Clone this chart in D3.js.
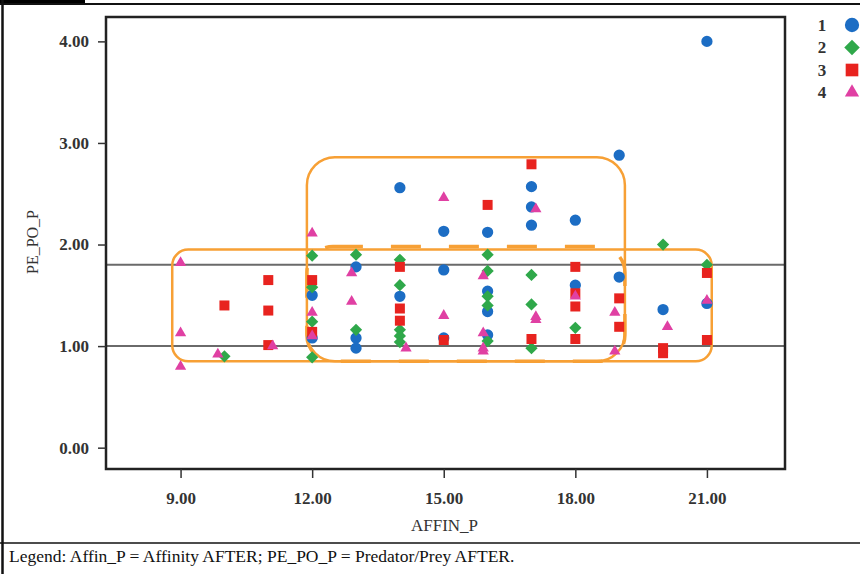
<!DOCTYPE html>
<html>
<head>
<meta charset="utf-8">
<script src="https://cdn.jsdelivr.net/npm/d3@7"></script>
<style>
  body { margin: 0; background: #fff; }
</style>
</head>
<body>
<div id="chart"></div>
<script>
// group values
const group1X = [12, 12, 13, 13, 13, 14, 14, 15, 15, 15, 16, 16, 16, 16, 17, 17, 17, 18, 18, 19, 19, 20, 21, 21];
const group1Y = [1.50, 1.08, 1.78, 1.08, 0.98, 2.56, 1.49, 2.13, 1.75, 1.08, 2.12, 1.54, 1.34, 1.11, 2.57, 2.37, 2.19, 2.24, 1.60, 2.88, 1.68, 1.36, 4.00, 1.42];

const group2X = [10, 12, 12, 12, 12, 13, 13, 14, 14, 14, 14, 14, 16, 16, 16, 16, 16, 17, 17, 17, 18, 20, 21];
const group2Y = [0.90, 1.89, 1.58, 1.24, 0.89, 1.90, 1.16, 1.85, 1.60, 1.16, 1.10, 1.04, 1.90, 1.74, 1.49, 1.40, 1.05, 1.70, 1.41, 0.98, 1.18, 2.00, 1.80];

const group3X = [10, 11, 11, 11, 12, 12, 14, 14, 14, 15, 16, 17, 17, 18, 18, 18, 18, 19, 19, 20, 20, 21, 21];
const group3Y = [1.40, 1.65, 1.35, 1.01, 1.65, 1.14, 1.78, 1.37, 1.25, 1.06, 2.39, 2.79, 1.07, 1.78, 1.52, 1.39, 1.07, 1.47, 1.19, 0.98, 0.93, 1.72, 1.06];

const group4X = [9, 9, 9, 9.85, 11.1, 12, 12, 12, 12.9, 12.9, 14.14, 15, 15, 15.9, 15.9, 15.9, 15.9, 17.1, 17.1, 17.1, 18, 18.9, 18.9, 20.1, 21];
const group4Y = [1.82, 1.13, 0.80, 0.92, 1.00, 2.11, 1.33, 1.10, 1.72, 1.44, 0.98, 2.46, 1.30, 1.69, 1.13, 0.98, 0.95, 2.35, 1.29, 1.26, 1.49, 1.33, 0.95, 1.19, 1.45];

const groupNames = ['1', '2', '3', '4'];
const xTicks = [9, 12, 15, 18, 21];
const yTicks = [0, 1, 2, 3, 4];
const refLines = [1.0, 1.8];

// annotation boxes in data units: [x0, x1, y0, y1]
const wideBox = [8.81, 21.11, 0.85, 1.95];
const tallBox = [11.88, 19.13, 0.85, 2.86];
const innerBox = [11.88, 19.13, 0.85, 1.98];

const width = 860, height = 574;
const plot = { left: 106, top: 17, right: 785, bottom: 469 };
const serif = '"Liberation Serif"';

const colors = ['#1c6dc4', '#2fa84a', '#e8231f', '#e040a3'];
const shapes = [
    { type: d3.symbolCircle, size: 100, rotate: 0 },
    { type: d3.symbolSquare, size: 75, rotate: 45 },
    { type: d3.symbolSquare, size: 100, rotate: 0 },
    { type: d3.symbolTriangle, size: 55, rotate: 0 }
];

const svg = d3.select('#chart').append('svg')
    .attr('width', width)
    .attr('height', height);

const x = d3.scaleLinear().domain([7.3, 22.78]).range([plot.left, plot.right]);
const y = d3.scaleLinear().domain([-0.21, 4.24]).range([plot.bottom, plot.top]);

// page frame
svg.append('rect').attr('x', 0).attr('y', 0).attr('width', 85).attr('height', 4).attr('fill', '#000');
svg.append('line').attr('x1', 0).attr('x2', width).attr('y1', 4).attr('y2', 4)
    .attr('stroke', '#111').attr('stroke-width', 2);
svg.append('line').attr('x1', 2.5).attr('x2', 2.5).attr('y1', 0).attr('y2', height)
    .attr('stroke', '#111').attr('stroke-width', 2.5);
svg.append('line').attr('x1', 0).attr('x2', width).attr('y1', 543).attr('y2', 543)
    .attr('stroke', '#111').attr('stroke-width', 1.5);

// reference lines
svg.append('g').selectAll('line')
    .data(refLines)
    .enter()
    .append('line')
    .attr('x1', plot.left).attr('x2', plot.right)
    .attr('y1', d => y(d)).attr('y2', d => y(d))
    .attr('stroke', '#6a6a6a')
    .attr('stroke-width', 2);

// orange annotation boxes
function drawBox(b, dash, sw, r) {
    svg.append('rect')
        .attr('x', x(b[0]))
        .attr('y', y(b[3]))
        .attr('width', x(b[1]) - x(b[0]))
        .attr('height', y(b[2]) - y(b[3]))
        .attr('rx', r).attr('ry', r)
        .attr('fill', 'none')
        .attr('stroke', '#f7a035')
        .attr('stroke-width', sw)
        .attr('stroke-dasharray', dash);
}
drawBox(wideBox, null, 2.5, 16);
drawBox(tallBox, null, 2.5, 28);
drawBox(innerBox, '30,28', 3.5, 26);

// points
const groups = [[group1X, group1Y], [group2X, group2Y], [group3X, group3Y], [group4X, group4Y]];
groups.forEach((g, gi) => {
    const pts = g[0].map((v, i) => [v, g[1][i]]);
    const sym = d3.symbol().type(shapes[gi].type).size(shapes[gi].size);
    svg.append('g').selectAll('path')
        .data(pts)
        .enter()
        .append('path')
        .attr('d', sym)
        .attr('transform', d => `translate(${x(d[0])},${y(d[1])}) rotate(${shapes[gi].rotate})`)
        .attr('fill', colors[gi]);
});

// plot frame
svg.append('rect')
    .attr('x', plot.left).attr('y', plot.top)
    .attr('width', plot.right - plot.left).attr('height', plot.bottom - plot.top)
    .attr('fill', 'none').attr('stroke', '#222').attr('stroke-width', 2.5);

// axes
const yAxis = svg.append('g')
    .attr('transform', `translate(${plot.left},0)`)
    .call(d3.axisLeft(y).tickValues(yTicks).tickFormat(d3.format('.2f')).tickSize(8).tickPadding(9));
const xAxis = svg.append('g')
    .attr('transform', `translate(0,${plot.bottom})`)
    .call(d3.axisBottom(x).tickValues(xTicks).tickFormat(d3.format('.2f')).tickSize(9).tickPadding(14));
[xAxis, yAxis].forEach(a => {
    a.attr('font-family', serif);
    a.select('.domain').remove();
    a.selectAll('line').attr('stroke', '#333').attr('stroke-width', 1.5);
    a.selectAll('text')
        .attr('font-family', serif)
        .style('font-size', '17px')
        .attr('font-weight', 'bold')
        .attr('fill', '#333');
});

// axis titles
svg.append('text')
    .attr('x', (plot.left + plot.right) / 2 - 1)
    .attr('y', 531)
    .attr('text-anchor', 'middle')
    .attr('font-family', serif)
    .style('font-size', '17px')
    .attr('fill', '#333')
    .text('AFFIN_P');

svg.append('text')
    .attr('transform', 'translate(38,242) rotate(-90)')
    .attr('text-anchor', 'middle')
    .attr('font-family', serif)
    .style('font-size', '16px')
    .attr('fill', '#333')
    .text('PE_PO_P');

// legend
const legend = svg.append('g').selectAll('g')
    .data(groupNames)
    .enter()
    .append('g')
    .attr('transform', (d, i) => `translate(0,${25 + i * 22.5})`);
legend.append('text')
    .attr('x', 822)
    .attr('y', 5.5)
    .attr('text-anchor', 'middle')
    .attr('font-family', serif)
    .style('font-size', '17px')
    .attr('font-weight', 'bold')
    .attr('fill', '#333')
    .text(d => d);
legend.append('path')
    .attr('d', (d, i) => d3.symbol().type(shapes[i].type).size(shapes[i].size * 1.6)())
    .attr('transform', (d, i) => `translate(852,0) rotate(${shapes[i].rotate})`)
    .attr('fill', (d, i) => colors[i]);

// caption
svg.append('text')
    .attr('x', 9)
    .attr('y', 562)
    .attr('font-family', serif)
    .style('font-size', '17.5px')
    .attr('fill', '#111')
    .text('Legend: Affin_P = Affinity AFTER; PE_PO_P = Predator/Prey AFTER.');
</script>
</body>
</html>
